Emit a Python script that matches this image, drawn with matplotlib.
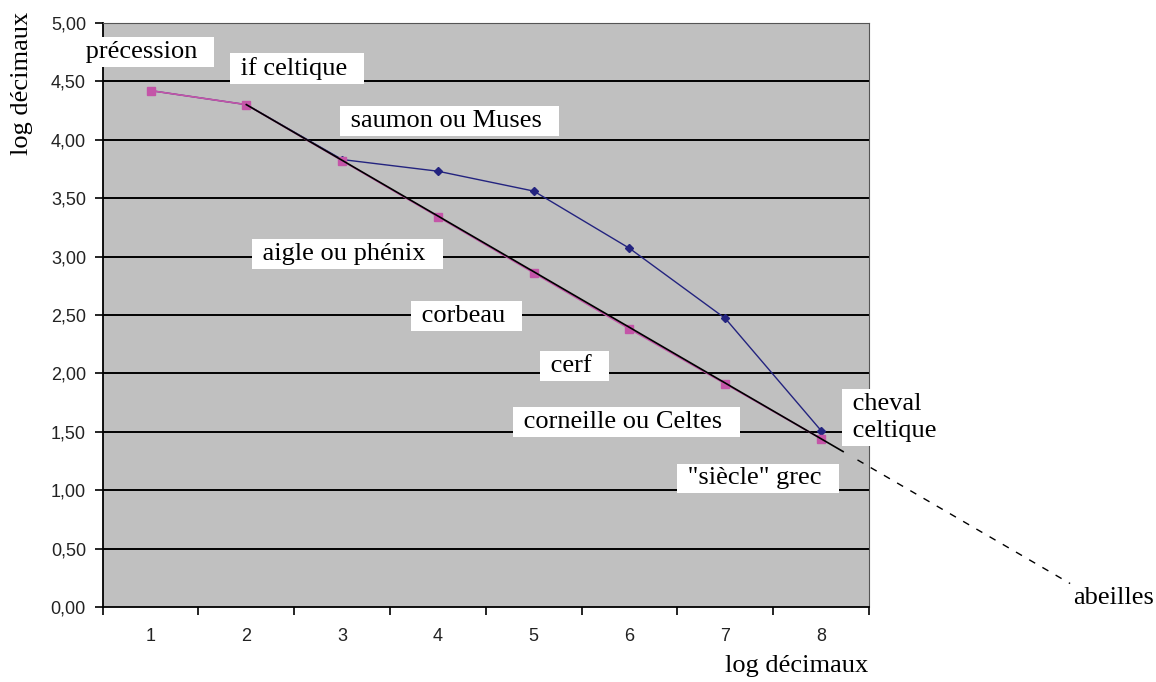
import numpy as np
import matplotlib.pyplot as plt
from matplotlib.ticker import FixedLocator, FuncFormatter

# valeurs lues (log décimaux)
rangs = [1, 2, 3, 4, 5, 6, 7, 8]
serie_rose = [4.42, 4.30, 3.82, 3.34, 2.86, 2.38, 1.91, 1.44]
serie_bleue = [4.42, 4.30, 3.83, 3.73, 3.56, 3.07, 2.47, 1.51]

# étiquettes : texte, x, y (coordonnées du graphique)
etiquettes = [
    ("précession", 0.32, 4.75),
    ("if celtique", 1.94, 4.61),
    ("saumon ou Muses", 3.09, 4.16),
    ("aigle ou phénix", 2.17, 3.02),
    ("corbeau", 3.83, 2.49),
    ("cerf", 5.18, 2.06),
    ("corneille ou Celtes", 4.90, 1.58),
    ("\"siècle\" grec", 6.61, 1.10),
]

fig = plt.figure(figsize=(11.56, 6.82), dpi=100)
ax = fig.add_axes([0.0888, 0.110, 0.6629, 0.8565])
ax.set_facecolor('#c0c0c0')

ax.set_xlim(0.5, 8.5)
ax.set_ylim(0, 5)

# quadrillage horizontal noir
for v in np.arange(0.5, 5.0, 0.5):
    ax.axhline(v, color='black', lw=1.4, zorder=1)

ax.plot(rangs, serie_bleue, color='#23237f', lw=1, marker='D', ms=4, zorder=3)
ax.plot(rangs, serie_rose, color='#c455a8', lw=1.2, marker='s', ms=5.5, zorder=4)

# droite de tendance entre le rang 2 et le rang 8, prolongée en pointillés
pente = (serie_rose[7] - serie_rose[1]) / (rangs[7] - rangs[1])
x_plein = np.array([rangs[1], 8.23])
ax.plot(x_plein, serie_rose[1] + pente * (x_plein - rangs[1]), color='black', lw=1.2, zorder=5)
x_tirets = np.array([8.38, 10.6])
ax.plot(x_tirets, serie_rose[1] + pente * (x_tirets - rangs[1]), color='black', lw=1,
        ls=(0, (5, 6)), clip_on=False, zorder=5)

boite = dict(facecolor='white', edgecolor='none', boxstyle='square,pad=0.15')
for texte, x, y in etiquettes:
    ax.text(x - 0.07, y, ' ' + texte + '  ', family='Liberation Serif', fontsize=19,
            ha='left', va='center', zorder=6, clip_on=False, bbox=boite)
ax.text(8.26, 1.62, " cheval \n celtique ", family='Liberation Serif', fontsize=19,
        ha='left', va='center', linespacing=1.3, zorder=6, clip_on=False, bbox=boite)
ax.text(10.63, 0.08, "abeilles", family='Liberation Serif', fontsize=19,
        ha='left', va='center', clip_on=False)

# axes
ax.xaxis.set_major_locator(FixedLocator(np.arange(0.5, 9, 1)))
ax.xaxis.set_minor_locator(FixedLocator(rangs))
ax.xaxis.set_major_formatter(FuncFormatter(lambda v, p: ''))
ax.xaxis.set_minor_formatter(FuncFormatter(lambda v, p: '%d' % v))
ax.tick_params(axis='x', which='major', length=6, width=1.2, direction='out')
ax.tick_params(axis='x', which='minor', length=0, pad=15)
ax.set_yticks(np.arange(0, 5.01, 0.5))
ax.yaxis.set_major_formatter(FuncFormatter(lambda v, p: ('%.2f' % v).replace('.', ',')))
ax.tick_params(axis='y', length=6, width=1.2, direction='out', pad=6)
for lab in ax.get_xticklabels(which='both') + ax.get_yticklabels():
    lab.set_family('Liberation Sans')
    lab.set_fontsize(13)
    lab.set_color('#222222')

ax.spines['left'].set_linewidth(1.3)
ax.spines['bottom'].set_linewidth(1.3)
ax.spines['top'].set_color('#555555')
ax.spines['right'].set_color('#555555')

fig.text(797 / 1156, 1 - 666 / 682, "log décimaux", family='Liberation Serif',
         fontsize=19, ha='center', va='center')
fig.text(22 / 1156, 1 - 83 / 682, "log décimaux", family='Liberation Serif',
         fontsize=19, ha='center', va='center', rotation=90)

fig.savefig('out.png', dpi=100)
